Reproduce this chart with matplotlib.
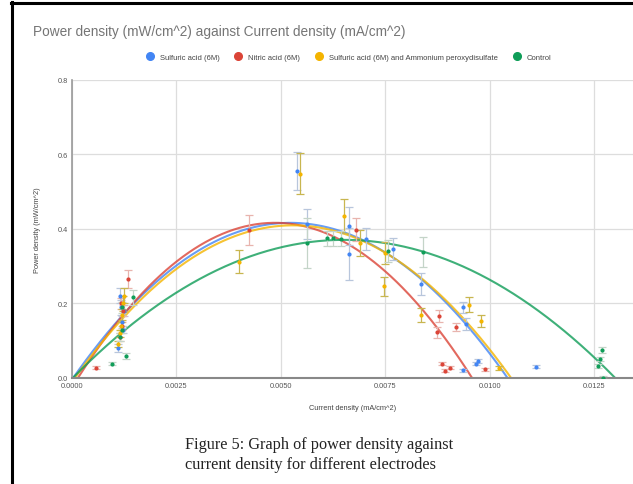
import numpy as np
import matplotlib.pyplot as plt
from matplotlib.lines import Line2D

# data
blue_x = [0.00110, 0.00115, 0.00118, 0.00120, 0.00122, 0.00125, 0.00539, 0.00563, 0.00663, 0.00663,
          0.00704, 0.00769, 0.00836, 0.00936, 0.00943, 0.00936, 0.00967, 0.00972, 0.0111]
blue_y = [0.080, 0.220, 0.190, 0.150, 0.130, 0.180, 0.555, 0.412, 0.408, 0.333,
          0.372, 0.346, 0.252, 0.190, 0.145, 0.021, 0.038, 0.046, 0.030]
blue_e = [0.010, 0.020, 0.020, 0.015, 0.010, 0.015, 0.050, 0.040, 0.050, 0.070,
          0.030, 0.030, 0.030, 0.015, 0.015, 0.004, 0.004, 0.005, 0.004]

red_x = [0.00057, 0.00115, 0.00118, 0.00120, 0.00122, 0.00134, 0.00424, 0.00680, 0.00879, 0.00874,
         0.00920, 0.00886, 0.00893, 0.00905, 0.00989]
red_y = [0.027, 0.110, 0.200, 0.140, 0.180, 0.265, 0.397, 0.398, 0.166, 0.123,
         0.137, 0.038, 0.019, 0.027, 0.024]
red_e = [0.004, 0.010, 0.015, 0.010, 0.015, 0.025, 0.040, 0.030, 0.015, 0.015,
         0.010, 0.004, 0.004, 0.004, 0.004]

yel_x = [0.00110, 0.00115, 0.00118, 0.00120, 0.00122, 0.00125, 0.00400, 0.00545, 0.00652,
         0.00690, 0.00750, 0.00747, 0.00836, 0.00950, 0.00980, 0.01022]
yel_y = [0.090, 0.120, 0.140, 0.170, 0.200, 0.220, 0.312, 0.548, 0.435,
         0.362, 0.335, 0.246, 0.169, 0.196, 0.153, 0.027]
yel_e = [0.008, 0.010, 0.010, 0.015, 0.020, 0.020, 0.030, 0.055, 0.045,
         0.035, 0.030, 0.025, 0.018, 0.020, 0.015, 0.005]

grn_x = [0.00096, 0.00115, 0.00120, 0.00120, 0.00130, 0.00146, 0.00563, 0.00611, 0.00625,
         0.00644, 0.00757, 0.00840, 0.01260, 0.01264, 0.01269, 0.01272]
grn_y = [0.038, 0.110, 0.130, 0.190, 0.060, 0.217, 0.362, 0.375, 0.375,
         0.373, 0.341, 0.337, 0.032, 0.051, 0.075, 0.000]
grn_e = [0.004, 0.010, 0.010, 0.015, 0.008, 0.020, 0.068, 0.020, 0.020,
         0.020, 0.030, 0.040, 0.005, 0.006, 0.008, 0.004]

labels = ["Sulfuric acid (6M)", "Nitric acid (6M)",
          "Sulfuric acid (6M) and Ammonium peroxydisulfate", "Control"]
colors = ["#4285F4", "#DB4437", "#F4B400", "#0F9D58"]
bar_colors = ["#b8c6dc", "#e8b4ae", "#c8b650", "#c4d4c8"]
series = [(blue_x, blue_y, blue_e), (red_x, red_y, red_e),
          (yel_x, yel_y, yel_e), (grn_x, grn_y, grn_e)]

plt.rcParams['font.family'] = ['Liberation Sans', 'DejaVu Sans']

fig = plt.figure(figsize=(6.33, 4.85), dpi=100)
ax = fig.add_axes([0.1137, 0.2186, 0.8863, 0.615])

xmax = 0.013434
xs = np.linspace(0, xmax, 400)
for (x, y, e), c, bc in zip(series, colors, bar_colors):
    x = np.array(x); y = np.array(y)
    ax.errorbar(x, y, yerr=e, fmt="none", ecolor=bc, elinewidth=0.9,
                capsize=3, capthick=0.9, zorder=3)
    ax.plot(x, y, "o", ms=2, color=c, zorder=4)
    # polynomial trendline (like the spreadsheet)
    p = np.polyfit(x, y, 2)
    ax.plot(xs, np.polyval(p, xs), color=c, lw=1.5, alpha=0.8, zorder=2)

ax.set_xlim(0, xmax)
ax.set_ylim(0, 0.8)
ax.set_xticks([0, 0.0025, 0.005, 0.0075, 0.01, 0.0125])
ax.set_xticklabels(["0.0000", "0.0025", "0.0050", "0.0075", "0.0100", "0.0125"])
ax.set_yticks([0, 0.2, 0.4, 0.6, 0.8])
ax.set_yticklabels(["0.0", "0.2", "0.4", "0.6", "0.8"])
ax.tick_params(length=0, labelsize=5.3, colors="#555555", pad=3)
ax.grid(color="#dddddd", lw=0.9)
ax.set_axisbelow(True)
for s in ["top", "right"]:
    ax.spines[s].set_visible(False)
ax.spines["left"].set_color("#999999")
ax.spines["bottom"].set_color("#888888")
ax.spines["left"].set_linewidth(1.2)
ax.spines["bottom"].set_linewidth(1.5)

ax.set_xlabel("Current density (mA/cm^2)", fontsize=5.3, color="#444444", labelpad=11)
ax.set_ylabel("Power density (mW/cm^2)", fontsize=5.3, color="#444444", labelpad=12)

fig.text(0.052, 0.934, "Power density (mW/cm^2) against Current density (mA/cm^2)",
         fontsize=9.8, color="#757575", va="center")

handles = [Line2D([], [], marker="o", ls="", ms=5.5, color=c) for c in colors]
fig.legend(handles, labels, loc="center", bbox_to_anchor=(0.548, 0.880), ncol=4,
           frameon=False, fontsize=5.5, handletextpad=0.3, columnspacing=1.5,
           labelcolor="#444444")

fig.text(0.292, 0.062, "Figure 5: Graph of power density against\ncurrent density for different electrodes",
         fontsize=11.7, family=["Liberation Serif"], color="#222222", va="center",
         linespacing=1.3)

# black frame of the document page
fig.add_artist(Line2D([0.0190, 0.0190], [0, 0.993], color="black", lw=2.2))
fig.add_artist(Line2D([0.0175, 1.0], [0.992, 0.992], color="black", lw=2.2))

fig.savefig("out.png", dpi=100)
